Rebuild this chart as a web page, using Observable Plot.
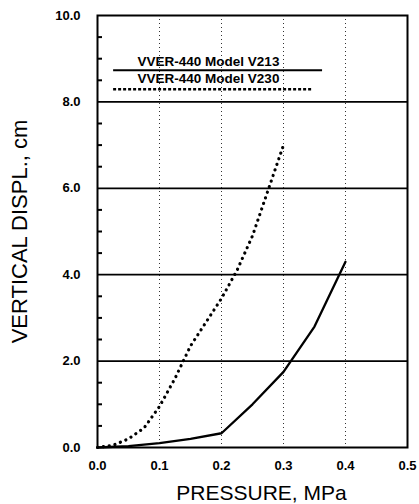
<!DOCTYPE html>
<html>
<head>
<meta charset="utf-8">
<script src="https://cdn.jsdelivr.net/npm/d3@7"></script>
<script src="https://cdn.jsdelivr.net/npm/@observablehq/plot@0.6"></script>
<style>
  html, body { margin: 0; padding: 0; background: #fff; }
  #chart { width: 419px; height: 504px; }
</style>
</head>
<body>
<div id="chart"></div>
<script>
// Series: VVER-440 Model V213 (solid)
const v213Pressure = [0, 0.05, 0.1, 0.15, 0.2, 0.25, 0.3, 0.35, 0.4];
const v213Displ    = [0, 0.03, 0.1, 0.2, 0.33, 1.0, 1.75, 2.8, 4.3];

// Series: VVER-440 Model V230 (dotted)
const v230Pressure = [0, 0.025, 0.05, 0.075, 0.1, 0.125, 0.15, 0.175, 0.2, 0.225, 0.25, 0.275, 0.3];
const v230Displ    = [0, 0.05, 0.2, 0.45, 0.95, 1.6, 2.35, 2.9, 3.45, 4.1, 4.9, 5.95, 7.0];

const seriesNames = ["VVER-440 Model V213", "VVER-440 Model V230"];
const xTicks = [0, 0.1, 0.2, 0.3, 0.4, 0.5];
const yTicks = [0, 2, 4, 6, 8, 10];
const yMinorTicks = [0.5, 1, 1.5, 2.5, 3, 3.5, 4.5, 5, 5.5, 6.5, 7, 7.5, 8.5, 9, 9.5];
const xLabel = "PRESSURE, MPa";
const yLabel = "VERTICAL DISPL., cm";

const v213 = v213Pressure.map((p, i) => ({p, d: v213Displ[i]}));
const v230 = v230Pressure.map((p, i) => ({p, d: v230Displ[i]}));

const fmt = d3.format(".1f");
const font = "'Liberation Sans', Arial, Helvetica, sans-serif";

const W = 419, H = 504, ML = 97, MR = 12, MT = 15, MB = 57;
const innerW = W - ML - MR;

const chart = Plot.plot({
  width: W,
  height: H,
  marginLeft: ML,
  marginRight: MR,
  marginTop: MT,
  marginBottom: MB,
  style: {fontFamily: font, background: "#fff", color: "#000"},
  x: {domain: [0, 0.5]},
  y: {domain: [0, 10]},
  marks: [
    // gridlines
    Plot.ruleX(xTicks.slice(1, -1), {stroke: "#333", strokeWidth: 1, strokeDasharray: "1,3"}),
    Plot.ruleY(yTicks.slice(1, -1), {stroke: "#000", strokeWidth: 1.7}),
    // minor inward ticks on the left edge
    Plot.ruleY(yMinorTicks, {stroke: "#000", strokeWidth: 2, insetRight: innerW - 5}),
    // axes
    Plot.axisX({ticks: xTicks, tickFormat: fmt, tickSize: 0, tickPadding: 13, fontSize: 13, fontWeight: "bold", label: null}),
    Plot.axisY({ticks: yTicks, tickFormat: fmt, tickSize: 0, tickPadding: 17, fontSize: 13, fontWeight: "bold", label: null}),
    // axis titles
    Plot.text([xLabel], {text: d => d, frameAnchor: "bottom", textAnchor: "middle", lineAnchor: "middle", dx: 9, dy: 46, fontSize: 21}),
    Plot.text([yLabel], {text: d => d, frameAnchor: "left", textAnchor: "middle", lineAnchor: "middle", rotate: -90, dx: -78, fontSize: 22}),
    // data
    Plot.line(v213, {x: "p", y: "d", stroke: "#000", strokeWidth: 2.3}),
    Plot.line(v230, {x: "p", y: "d", stroke: "#000", strokeWidth: 3.2, strokeDasharray: "0.1,5.8", strokeLinecap: "round"}),
    // legend (inside plot, upper left)
    Plot.text([seriesNames[0]], {text: d => d, x: 0.179, y: 8.92, fontSize: 13.5, fontWeight: "bold"}),
    Plot.ruleY([8.73], {x1: 0.026, x2: 0.363, stroke: "#000", strokeWidth: 2}),
    Plot.text([seriesNames[1]], {text: d => d, x: 0.179, y: 8.53, fontSize: 13.5, fontWeight: "bold"}),
    Plot.ruleY([8.29], {x1: 0.026, x2: 0.348, stroke: "#000", strokeWidth: 2.5, strokeDasharray: "3,2"}),
    // frame
    Plot.frame({stroke: "#000", strokeWidth: 2})
  ]
});
document.getElementById("chart").appendChild(chart);
</script>
</body>
</html>
